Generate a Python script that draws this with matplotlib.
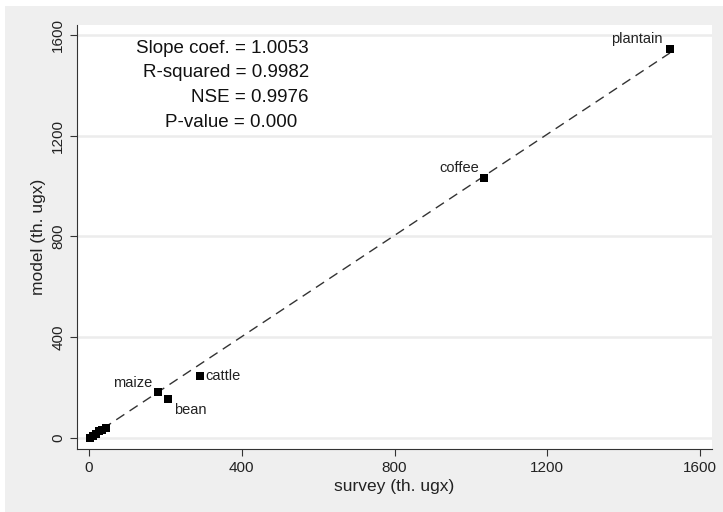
import matplotlib.pyplot as plt
from matplotlib.patches import Rectangle

# survey vs model values (th. ugx)
survey = [1521, 1035, 291, 181, 206, 2, 10, 18, 27, 35, 44]
model = [1544, 1032, 247, 181, 155, 0, 8, 17, 26, 33, 41]
labels = ['plantain', 'coffee', 'cattle', 'maize', 'bean', '', '', '', '', '', '']
slope = 1.0053
stats = ['Slope coef. = 1.0053', 'R-squared = 0.9982', 'NSE = 0.9976', 'P-value = 0.000']

xticks = [0, 400, 800, 1200, 1600]
yticks = [0, 400, 800, 1200, 1600]

plt.rcParams['font.family'] = ['Liberation Sans Narrow', 'Liberation Sans', 'DejaVu Sans']

fig = plt.figure(figsize=(7.23, 5.12), dpi=100)
fig.patch.set_facecolor('#efefef')
# white strips at top and left (cropped page)
fig.patches.append(Rectangle((0, 1 - 6 / 512), 1, 6 / 512, transform=fig.transFigure,
                             facecolor='white', edgecolor='none', zorder=0))
fig.patches.append(Rectangle((0, 0), 5 / 723, 1, transform=fig.transFigure,
                             facecolor='white', edgecolor='none', zorder=0))

ax = fig.add_axes([77 / 723, 1 - 449 / 512, (712 - 77) / 723, (449 - 25) / 512])
ax.set_facecolor('white')
ax.set_xlim(-31, 1631)
ax.set_ylim(-44, 1640)

# horizontal grid
for y in yticks:
    ax.axhline(y, color='#ececec', lw=1.8, zorder=0)

# fitted line
x0, x1 = min(survey), max(survey)
ax.plot([x0, x1], [x0 * slope, x1 * slope], color='#333333', lw=1,
        dashes=(7, 4.5), zorder=2)

ax.plot(survey, model, 's', color='black', ms=5.8, mew=0, zorder=3)

# point labels
offsets = {
    'plantain': ((-5, 2), 'right', 'bottom'),
    'coffee': ((-4, 2), 'right', 'bottom'),
    'maize': ((-4, 2), 'right', 'bottom'),
    'cattle': ((4, 0), 'left', 'center'),
    'bean': ((5, -3), 'left', 'top'),
}
for xv, yv, lab in zip(survey, model, labels):
    if lab:
        off, ha, va = offsets[lab]
        ax.annotate(lab, (xv, yv), xytext=off, textcoords='offset points',
                    ha=ha, va=va, fontsize=10.5, color='#222222')

# statistics text
ys = [1548, 1452, 1353, 1254]
xs = [576, 576, 576, 545]
for s, xv, yv in zip(stats, xs, ys):
    ax.text(xv, yv, s, ha='right', va='center', fontsize=13.5, color='#111111')

ax.set_xticks(xticks)
ax.set_yticks(yticks)
ax.tick_params(axis='both', direction='out', length=5, width=0.8, color='#333333',
               labelsize=11, labelcolor='#222222')
for lbl in ax.get_yticklabels():
    lbl.set_rotation(90)
    lbl.set_va('center')
ax.spines['top'].set_visible(False)
ax.spines['right'].set_visible(False)
ax.spines['left'].set_color('#333333')
ax.spines['bottom'].set_color('#333333')

ax.set_xlabel('survey (th. ugx)', fontsize=12.5, color='#222222', labelpad=3)
ax.set_ylabel('model (th. ugx)', fontsize=12.5, color='#222222', labelpad=4)

fig.savefig('out.png', dpi=100, facecolor=fig.get_facecolor())
